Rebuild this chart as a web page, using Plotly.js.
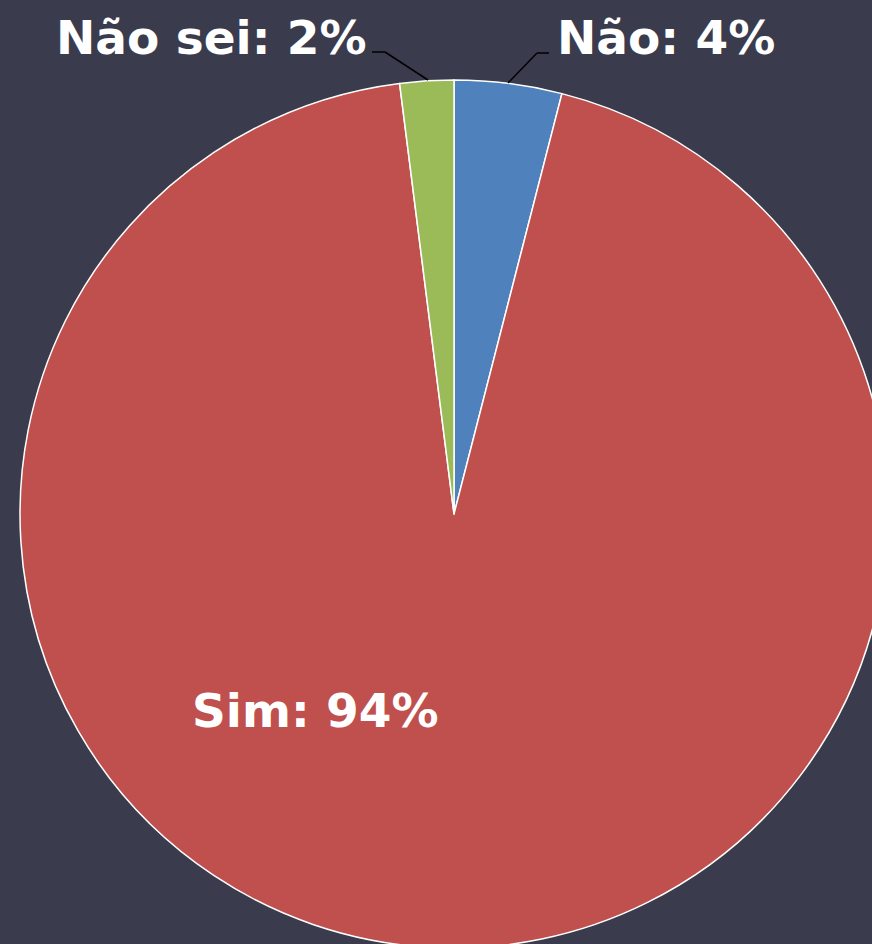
<!DOCTYPE html>
<html>
<head>
<meta charset="utf-8">
<script src="https://cdn.plot.ly/plotly-3.0.1.min.js"></script>
<style>
  html, body { margin: 0; padding: 0; background: #3a3c4e; overflow: hidden; }
  #myPlot { width: 888px; height: 948px; }
</style>
</head>
<body>
<div id="myPlot"></div>
<script>
var labels = ["Não", "Sim", "Não sei"];
var values = [4, 94, 2];
var sliceColors = ["#4f81bd", "#c0504d", "#9bbb59"];

// page pixels -> paper coords (figure is 888 x 948, no margins)
var W = 888, H = 948;
function px(x) { return x / W; }
function py(y) { return 1 - y / H; }

// where each label sits, in page pixels
var labelPos = [[666, 37], [315, 710], [211, 37]];

var data = [{
  type: "pie",
  labels: labels,
  values: values,
  sort: false,
  direction: "clockwise",
  rotation: 0,
  textinfo: "none",
  hoverinfo: "none",
  marker: { colors: sliceColors, line: { color: "#ffffff", width: 1.5 } },
  domain: { x: [px(20), 1], y: [0, 1 - 80 / H] }
}];

var annotations = labels.map(function (lab, i) {
  return {
    text: lab + ": " + values[i] + "%",
    xref: "paper", yref: "paper",
    x: px(labelPos[i][0]), y: py(labelPos[i][1]),
    xanchor: "center", yanchor: "middle",
    showarrow: false,
    font: { family: "DejaVu Sans", size: 47, color: "#ffffff", weight: 700 }
  };
});

// leader lines for the two small slices
function seg(x0, y0, x1, y1) {
  return { type: "line", xref: "paper", yref: "paper",
    x0: px(x0), y0: py(y0), x1: px(x1), y1: py(y1),
    line: { color: "#000000", width: 1.5 } };
}
var shapes = [
  seg(549, 53, 537, 53), seg(537, 53, 508, 83),
  seg(372, 52, 385, 52), seg(385, 52, 428, 80)
];

var layout = {
  width: W, height: H,
  margin: { l: 0, r: 0, t: 0, b: 0 },
  paper_bgcolor: "#3a3c4e",
  plot_bgcolor: "#3a3c4e",
  showlegend: false,
  hovermode: false,
  annotations: annotations,
  shapes: shapes
};

Plotly.newPlot("myPlot", data, layout, { displayModeBar: false, staticPlot: true });
</script>
</body>
</html>
